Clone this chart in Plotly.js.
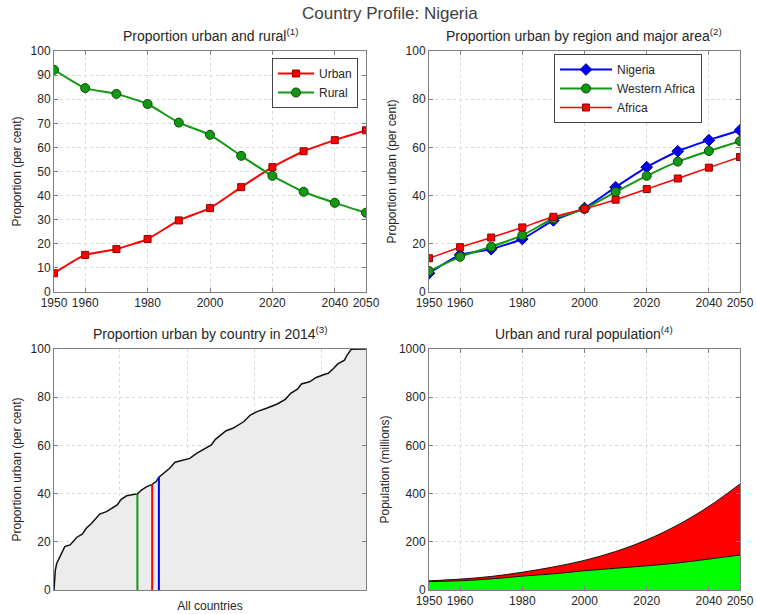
<!DOCTYPE html>
<html>
<head>
<meta charset="utf-8">
<script src="https://cdn.plot.ly/plotly-3.0.1.min.js"></script>
<style>html,body{margin:0;padding:0;background:#fff;}#chart{width:757px;height:614px;}</style>
</head>
<body>
<div id="chart"></div>
<script>
// ---- Data ----
var years = [1950, 1960, 1970, 1980, 1990, 2000, 2010, 2020, 2030, 2040, 2050];
var yearTicks = [1950, 1960, 1980, 2000, 2020, 2040, 2050];

// Panel 1: Nigeria proportion urban / rural (per cent)
var nigeriaUrban = [7.8, 15.4, 17.8, 22.0, 29.7, 34.8, 43.5, 51.8, 58.4, 63.0, 67.1];
var nigeriaRural = [92.2, 84.6, 82.2, 78.0, 70.3, 65.2, 56.5, 48.2, 41.6, 37.0, 32.9];

// Panel 2: proportion urban by region
var westernAfricaUrban = [8.7, 14.6, 18.8, 23.5, 30.5, 34.5, 41.5, 48.2, 54.1, 58.5, 62.6];
var africaUrban = [14.0, 18.6, 22.6, 26.8, 31.2, 34.5, 38.3, 42.7, 47.1, 51.6, 56.0];

// Panel 3: proportion urban by country in 2014 (sorted, country rank)
var countryRank = [1, 2, 3, 6, 9, 13, 15, 18, 22, 25, 29, 33, 35, 40, 44, 48, 51, 55, 60, 63, 66, 70, 74, 77, 79, 84, 87, 91, 97, 102, 107, 112, 118, 121, 124, 129, 134, 142, 147, 152, 159, 167, 173, 177, 182, 185, 191, 196, 203, 205, 209, 212, 217, 219, 222, 233];
var urban2014 = [0, 8.3, 11.0, 14.5, 18.0, 18.7, 20.0, 21.9, 23.2, 25.6, 27.7, 30.4, 31.5, 32.5, 33.9, 35.3, 37.6, 39.1, 39.6, 39.8, 41.5, 42.9, 43.8, 45.0, 46.8, 49.1, 50.5, 53.0, 53.7, 54.6, 56.7, 58.4, 60.2, 62.5, 63.9, 66.1, 67.1, 69.8, 72.6, 74.0, 75.4, 77.2, 79.1, 81.6, 83.3, 85.5, 86.4, 88.2, 89.6, 89.9, 92.0, 93.8, 95.4, 97.5, 99.9, 100];
var markerNames = ["Western Africa", "Africa", "Nigeria"];
var markerRank = [63, 74, 79];
var markerValue = [39.8, 44.0, 46.9];
var markerColors = ["#119911", "#ff0000", "#0000ff"];

// Panel 4: urban and rural population (millions)
var ruralPop = [34.9, 38.2, 46.1, 57.5, 67.2, 80.1, 90.2, 100.3, 112.3, 128.4, 144.8];
var urbanPop = [3.0, 7.0, 10.0, 16.2, 28.4, 42.8, 69.5, 107.7, 157.7, 218.6, 295.2];

// ---- Styling helpers ----
var FONT = "Liberation Sans, Arial, sans-serif";
var TXT = "#262626";
function axisBase(extra) {
  var a = {
    showline: true, linecolor: "#7f7f7f", linewidth: 1, mirror: "ticks",
    ticks: "inside", ticklen: 4, tickcolor: "#7f7f7f",
    showgrid: true, gridcolor: "#d9d9d9", griddash: "dot", gridwidth: 1,
    zeroline: false, tickfont: {family: FONT, size: 12, color: TXT},
    fixedrange: true
  };
  for (var k in extra) a[k] = extra[k];
  return a;
}

var traces = [];
// Panel 1
traces.push({x: years, y: nigeriaUrban, name: "Urban", type: "scatter", mode: "lines+markers",
  xaxis: "x", yaxis: "y", legend: "legend",
  line: {color: "#ff0000", width: 2, shape: "spline", smoothing: 0.5},
  marker: {symbol: "square", size: 7, color: "#ff0000", line: {color: "#8b0000", width: 1}}});
traces.push({x: years, y: nigeriaRural, name: "Rural", type: "scatter", mode: "lines+markers",
  xaxis: "x", yaxis: "y", legend: "legend",
  line: {color: "#119911", width: 2, shape: "spline", smoothing: 0.5},
  marker: {symbol: "circle", size: 9, color: "#119911", line: {color: "#0a4a0a", width: 1}}});
// Panel 2
traces.push({x: years, y: nigeriaUrban, name: "Nigeria", type: "scatter", mode: "lines+markers",
  xaxis: "x2", yaxis: "y2", legend: "legend2",
  line: {color: "#0000ff", width: 2, shape: "spline", smoothing: 0.5},
  marker: {symbol: "diamond", size: 9, color: "#0000ff", line: {color: "#00007a", width: 1}}});
traces.push({x: years, y: westernAfricaUrban, name: "Western Africa", type: "scatter", mode: "lines+markers",
  xaxis: "x2", yaxis: "y2", legend: "legend2",
  line: {color: "#119911", width: 2, shape: "spline", smoothing: 0.5},
  marker: {symbol: "circle", size: 9, color: "#119911", line: {color: "#0a4a0a", width: 1}}});
traces.push({x: years, y: africaUrban, name: "Africa", type: "scatter", mode: "lines+markers",
  xaxis: "x2", yaxis: "y2", legend: "legend2",
  line: {color: "#ff0000", width: 1.5, shape: "spline", smoothing: 0.5},
  marker: {symbol: "square", size: 7, color: "#ff0000", line: {color: "#8b0000", width: 1}}});
// Panel 3
traces.push({x: countryRank, y: urban2014, type: "scatter", mode: "lines", showlegend: false,
  xaxis: "x3", yaxis: "y3", fill: "tozeroy", fillcolor: "#ececec",
  line: {color: "#111111", width: 1.5}});
for (var i = 0; i < markerRank.length; i++) {
  traces.push({x: [markerRank[i], markerRank[i]], y: [0, markerValue[i]], name: markerNames[i],
    type: "scatter", mode: "lines", showlegend: false, xaxis: "x3", yaxis: "y3",
    line: {color: markerColors[i], width: 2}});
}
// Panel 4
traces.push({x: years, y: ruralPop, name: "Rural", type: "scatter", mode: "lines", stackgroup: "pop",
  showlegend: false, xaxis: "x4", yaxis: "y4", fillcolor: "#00ff00",
  line: {color: "#111111", width: 1, shape: "spline"}});
traces.push({x: years, y: urbanPop, name: "Urban", type: "scatter", mode: "lines", stackgroup: "pop",
  showlegend: false, xaxis: "x4", yaxis: "y4", fillcolor: "#ff0000",
  line: {color: "#111111", width: 1, shape: "spline"}});

var W = 757, H = 614;
function xd(a, b) { return [a / W, b / W]; }
function yd(top, bot) { return [(H - bot) / H, (H - top) / H]; }
function yTitle(t) { return {text: t, font: {family: FONT, size: 12, color: TXT}, standoff: 6}; }

var layout = {
  width: W, height: H, margin: {l: 0, r: 0, t: 0, b: 0},
  paper_bgcolor: "#ffffff", plot_bgcolor: "#ffffff",
  hovermode: false, font: {family: FONT, color: TXT},
  xaxis: axisBase({domain: xd(54, 366), range: [1950, 2050], tickvals: yearTicks, anchor: "y"}),
  yaxis: axisBase({domain: yd(51, 292), range: [0, 100], dtick: 10, anchor: "x", title: yTitle("Proportion (per cent)")}),
  xaxis2: axisBase({domain: xd(429, 740), range: [1950, 2050], tickvals: yearTicks, anchor: "y2"}),
  yaxis2: axisBase({domain: yd(51, 292), range: [0, 100], dtick: 20, anchor: "x2", title: yTitle("Proportion urban (per cent)")}),
  xaxis3: axisBase({domain: xd(54, 366), range: [1, 233], tickvals: [50, 100, 150, 200], showticklabels: false, ticklen: 0, anchor: "y3",
    title: {text: "All countries", font: {family: FONT, size: 12, color: TXT}, standoff: 11}}),
  yaxis3: axisBase({domain: yd(349, 590), range: [0, 100], dtick: 20, anchor: "x3", title: yTitle("Proportion urban (per cent)")}),
  xaxis4: axisBase({domain: xd(429, 740), range: [1950, 2050], tickvals: yearTicks, anchor: "y4"}),
  yaxis4: axisBase({domain: yd(349, 590), range: [0, 1000], dtick: 200, anchor: "x4", title: yTitle("Population (millions)")}),
  legend: {x: 272 / W, y: (H - 58) / H, xanchor: "left", yanchor: "top", bgcolor: "#ffffff", traceorder: "normal",
    bordercolor: "#444", borderwidth: 1, font: {family: FONT, size: 12, color: TXT}, tracegroupgap: 0, itemwidth: 36},
  legend2: {x: 554 / W, y: (H - 54) / H, xanchor: "left", yanchor: "top", bgcolor: "#ffffff", traceorder: "normal",
    bordercolor: "#444", borderwidth: 1, font: {family: FONT, size: 12, color: TXT}, tracegroupgap: 0, itemwidth: 52},
  annotations: [
    {text: "Country Profile: Nigeria", x: 0.515, y: (H - 13) / H, xref: "paper", yref: "paper",
      showarrow: false, font: {family: FONT, size: 17, color: "#404040"}, xanchor: "center", yanchor: "middle"},
    {text: "Proportion urban and rural<sup>(1)</sup>", x: 210 / W, y: (H - 35) / H, xref: "paper", yref: "paper",
      showarrow: false, font: {family: FONT, size: 14, color: TXT}, xanchor: "center", yanchor: "middle"},
    {text: "Proportion urban by region and major area<sup>(2)</sup>", x: 584 / W, y: (H - 35) / H, xref: "paper", yref: "paper",
      showarrow: false, font: {family: FONT, size: 14, color: TXT}, xanchor: "center", yanchor: "middle"},
    {text: "Proportion urban by country in 2014<sup>(3)</sup>", x: 210 / W, y: (H - 333) / H, xref: "paper", yref: "paper",
      showarrow: false, font: {family: FONT, size: 14, color: TXT}, xanchor: "center", yanchor: "middle"},
    {text: "Urban and rural population<sup>(4)</sup>", x: 584 / W, y: (H - 333) / H, xref: "paper", yref: "paper",
      showarrow: false, font: {family: FONT, size: 14, color: TXT}, xanchor: "center", yanchor: "middle"}
  ]
};

Plotly.newPlot("chart", traces, layout, {displayModeBar: false, staticPlot: true});
</script>
</body>
</html>
